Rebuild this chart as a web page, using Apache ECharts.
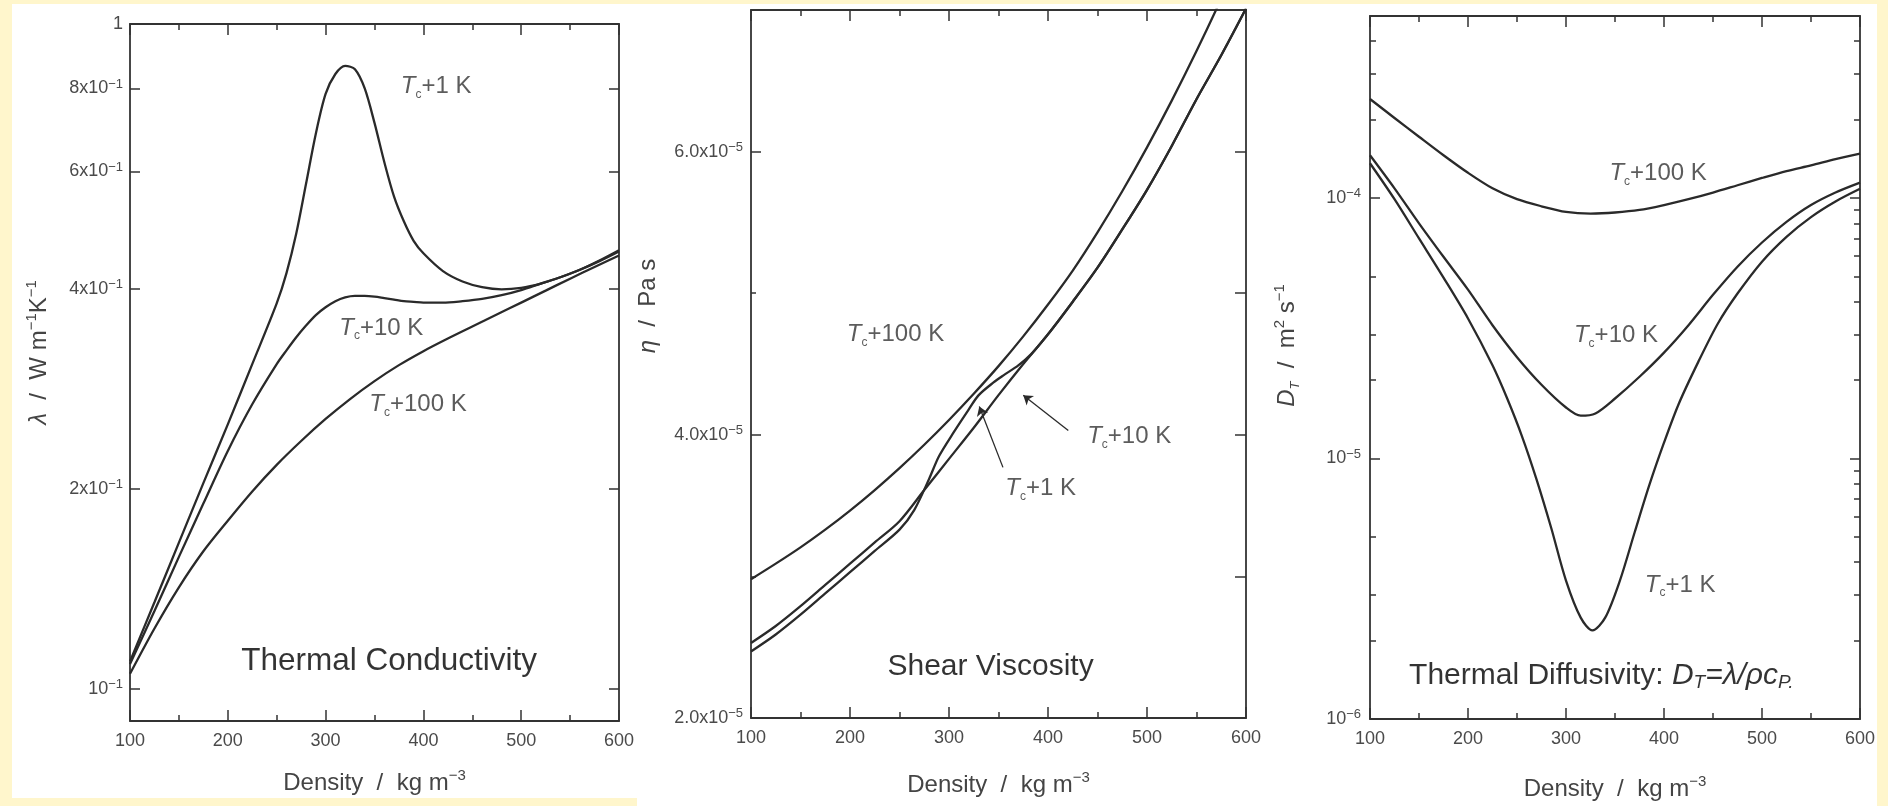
<!DOCTYPE html>
<html>
<head>
<meta charset="utf-8">
<style>
html,body{margin:0;padding:0;background:#FFF6CC;}
#c{width:1888px;height:806px;}
</style>
<script src="https://cdn.jsdelivr.net/npm/echarts@6/dist/echarts.min.js"></script>
</head>
<body>
<div id="c"></div>
<script>
// ---------------- DATA ----------------
// Panel 1: thermal conductivity (W m^-1 K^-1) vs density (kg m^-3)
const condDensity = [100,125,150,175,200,225,250,260,270,280,290,300,310,320,330,340,350,360,370,380,390,400,420,440,460,480,500,520,540,560,580,600];
const condTc1   = [0.110,0.135,0.166,0.204,0.250,0.308,0.380,0.422,0.484,0.575,0.684,0.785,0.841,0.865,0.855,0.800,0.710,0.620,0.550,0.505,0.472,0.452,0.425,0.410,0.402,0.399,0.401,0.407,0.416,0.427,0.441,0.457];
const condTc10  = [0.109,0.131,0.158,0.190,0.228,0.268,0.308,0.323,0.338,0.352,0.365,0.375,0.383,0.388,0.390,0.390,0.389,0.387,0.385,0.383,0.382,0.381,0.381,0.383,0.386,0.391,0.398,0.407,0.416,0.427,0.440,0.455];
const condDensityTc100 = [100,125,150,175,200,225,250,275,300,325,350,375,400,425,450,475,500,525,550,575,600];
const condTc100 = [0.1054,0.1233,0.1422,0.1611,0.1791,0.1982,0.2173,0.2360,0.2547,0.2729,0.2904,0.3069,0.3221,0.3365,0.3508,0.3656,0.3811,0.3972,0.4140,0.4311,0.4487];
const condTickValues = [0.1,0.2,0.4,0.6,0.8,1];
const condTickMant   = ['','2x','4x','6x','8x','1'];
const condNoteX = [413, 357, 394.5];
const condNoteY = [0.805, 0.349, 0.268];
const condNoteText = ['+1 K', '+10 K', '+100 K'];
const condTitlePos = [365, 0.1102];

// Panel 2: shear viscosity (units of 1e-5 Pa s) vs density
const visDensity = [100,125,150,175,200,225,250,275,300,325,350,375,400,425,450,475,500,525,550,575,600];
const visTc100 = [2.98,3.09,3.205,3.33,3.465,3.61,3.765,3.93,4.105,4.29,4.485,4.695,4.92,5.16,5.43,5.72,6.03,6.36,6.71,7.08,7.47];
const visTc10  = [2.53,2.65,2.79,2.94,3.09,3.24,3.39,3.61,3.83,4.05,4.28,4.50,4.71,4.94,5.18,5.45,5.73,6.04,6.37,6.68,7.01];
const visDensityTc1 = [100,125,150,175,200,225,250,265,280,290,305,320,330,345,355,370,383,400,425,450,475,500,525,550,575,600];
const visTc1 = [2.47,2.59,2.73,2.88,3.03,3.18,3.33,3.47,3.69,3.85,4.02,4.18,4.28,4.37,4.42,4.49,4.57,4.71,4.94,5.18,5.45,5.73,6.04,6.37,6.68,7.01];
const visLabelValues = [2,4,6];
const visLabelText = ['2.0x10','4.0x10','6.0x10'];
const visMajorTicks = [4,6];
const visMinorTicks = [3,5];
const visRightTicks = [3,4,5,6];
const visNoteX = [246, 482, 392.5];
const visNoteY = [4.71, 3.99, 3.62];
const visNoteText = ['+100 K', '+10 K', '+1 K'];
const visArrowFrom = [[420.5, 4.03], [354.5, 3.77]];
const visArrowTo   = [[375, 4.28], [330.6, 4.20]];
const visTitlePos = [342, 2.364];

// Panel 3: thermal diffusivity (m^2 s^-1) vs density
const difDensityTc100 = [100,125,150,175,200,225,250,275,300,325,350,375,400,425,450,475,500,525,550,575,600];
const difTc100 = [2.40e-4,2.03e-4,1.72e-4,1.46e-4,1.25e-4,1.09e-4,9.9e-5,9.3e-5,8.85e-5,8.72e-5,8.8e-5,9.0e-5,9.4e-5,9.9e-5,1.05e-4,1.12e-4,1.195e-4,1.27e-4,1.335e-4,1.41e-4,1.48e-4];
const difDensityTc10 = [100,125,150,175,200,225,250,275,300,315,330,350,375,400,425,450,475,500,525,550,575,600];
const difTc10 = [1.46e-4,1.09e-4,8.0e-5,5.95e-5,4.45e-5,3.25e-5,2.45e-5,1.92e-5,1.57e-5,1.46e-5,1.49e-5,1.70e-5,2.06e-5,2.55e-5,3.25e-5,4.25e-5,5.45e-5,6.75e-5,8.1e-5,9.4e-5,1.05e-4,1.146e-4];
const difDensityTc1 = [100,125,150,175,200,225,240,255,270,285,300,315,327,340,355,370,385,400,415,435,455,475,500,525,550,575,600];
const difTc1 = [1.36e-4,9.9e-5,7.0e-5,4.95e-5,3.45e-5,2.28e-5,1.70e-5,1.22e-5,8.3e-6,5.4e-6,3.4e-6,2.45e-6,2.19e-6,2.45e-6,3.4e-6,5.2e-6,7.9e-6,1.15e-5,1.62e-5,2.35e-5,3.3e-5,4.3e-5,5.7e-5,7.1e-5,8.45e-5,9.7e-5,1.085e-4];
const difDecades = [1e-6,1e-5,1e-4];
const difDecadeExp = ['−6','−5','−4'];
const difLeftMinor = [2e-6,3e-6,5e-6,2e-5,3e-5,5e-5,2e-4,3e-4,4e-4];
const difRightMinor = [2e-6,3e-6,4e-6,5e-6,6e-6,7e-6,8e-6,9e-6,2e-5,3e-5,4e-5,5e-5,6e-5,7e-5,8e-5,9e-5,2e-4,3e-4,4e-4];
const difNoteX = [394, 351, 416.5];
const difNoteY = [1.244e-4, 2.96e-5, 3.27e-6];
const difNoteText = ['+100 K', '+10 K', '+1 K'];
const difTitlePos = [336, 1.47e-6];

// ---------------- STYLE ----------------
const FONT = "'Liberation Sans', Arial, Helvetica, sans-serif";
const INK = '#2a2a2a';
const AXIS = '#333333';
const GRAY = '#4a4a4a';

const tickRich = {
  b: {fontSize: 18, color: GRAY, fontFamily: FONT, lineHeight: 22},
  s: {fontSize: 13, color: GRAY, fontFamily: FONT, verticalAlign: 'top', lineHeight: 13}
};
const nameRich = {
  b: {fontSize: 24, color: '#444', fontFamily: FONT, lineHeight: 30},
  i: {fontSize: 24, color: '#444', fontFamily: FONT, fontStyle: 'italic', lineHeight: 30},
  s: {fontSize: 15, color: '#444', fontFamily: FONT, verticalAlign: 'top', lineHeight: 15},
  sub: {fontSize: 13, color: '#444', fontFamily: FONT, fontStyle: 'italic', verticalAlign: 'bottom', lineHeight: 13}
};
const noteRich = {
  i: {fontSize: 24, color: '#333', fontFamily: FONT, fontStyle: 'italic', lineHeight: 28},
  sub: {fontSize: 12, color: '#333', fontFamily: FONT, verticalAlign: 'bottom', lineHeight: 12},
  n: {fontSize: 24, color: '#333', fontFamily: FONT, lineHeight: 28}
};
function titleRich(size) {
  return {
    b: {fontSize: size, color: '#000', fontFamily: FONT, lineHeight: size + 4},
    i: {fontSize: size, color: '#000', fontFamily: FONT, fontStyle: 'italic', lineHeight: size + 4},
    sub: {fontSize: Math.round(size * 0.63), color: '#000', fontFamily: FONT, fontStyle: 'italic', verticalAlign: 'bottom', lineHeight: Math.round(size * 0.63)}
  };
}

function nearestIndex(arr, v, log) {
  let best = 0, bd = Infinity;
  arr.forEach((a, i) => {
    const d = log ? Math.abs(Math.log10(a) - Math.log10(v)) : Math.abs(a - v);
    if (d < bd) { bd = d; best = i; }
  });
  return best;
}

const axisLineStyle = {color: AXIS, width: 1.8};
const tickLine = {color: AXIS, width: 1.5};

function xAxisDef(gridIndex, position, withLabel, nameGap) {
  return {
    type: 'value', gridIndex, position, min: 100, max: 600, interval: 100,
    axisLine: {show: true, onZero: false, lineStyle: axisLineStyle},
    axisTick: {show: true, inside: true, length: 11, lineStyle: tickLine},
    minorTick: {show: true, splitNumber: 2, length: 6, lineStyle: tickLine},
    splitLine: {show: false}, minorSplitLine: {show: false},
    axisLabel: {show: withLabel, margin: 11, color: GRAY, fontSize: 18, fontFamily: FONT},
    name: withLabel ? '{b|Density  /  kg m}{s|−3}' : '',
    nameLocation: 'middle', nameGap: nameGap || 0,
    nameTextStyle: {rich: nameRich}
  };
}

function tickOnlyY(base, gridIndex, position, values, length) {
  return Object.assign({}, base, {
    gridIndex, position,
    axisLine: {show: false},
    axisTick: {show: true, inside: true, length, lineStyle: tickLine, customValues: values},
    axisLabel: {show: false},
    splitLine: {show: false},
    name: ''
  });
}

const condY = {type: 'log', logBase: 10, min: 0.0895, max: 1};
const visY = {type: 'value', min: 2, max: 7};
const difY = {type: 'log', logBase: 10, min: 1e-6, max: 5e-4};

const yAxes = [
  // 0: panel 1 left
  Object.assign({}, condY, {
    gridIndex: 0, position: 'left',
    axisLine: {show: true, onZero: false, lineStyle: axisLineStyle},
    axisTick: {show: true, inside: true, length: 10, lineStyle: tickLine, customValues: condTickValues},
    axisLabel: {show: true, margin: 7, customValues: condTickValues, rich: tickRich,
      formatter: v => {
        const i = nearestIndex(condTickValues, v, true);
        if (condTickMant[i] === '1') return '{b|1}';
        return '{b|' + condTickMant[i] + '10}{s|−1}';
      }},
    splitLine: {show: false},
    name: '{i|λ}{b|  /  W m}{s|−1}{b|K}{s|−1}', nameLocation: 'middle', nameRotate: 90, nameGap: 76,
    nameTextStyle: {rich: nameRich, padding: [0, 0, 0, 40]}
  }),
  // 1: panel 1 right
  Object.assign({}, condY, {
    gridIndex: 0, position: 'right',
    axisLine: {show: true, onZero: false, lineStyle: axisLineStyle},
    axisTick: {show: true, inside: true, length: 10, lineStyle: tickLine, customValues: condTickValues},
    axisLabel: {show: false}, splitLine: {show: false}
  }),
  // 2: panel 2 left major
  Object.assign({}, visY, {
    gridIndex: 1, position: 'left',
    axisLine: {show: true, onZero: false, lineStyle: axisLineStyle},
    axisTick: {show: true, inside: true, length: 10, lineStyle: tickLine, customValues: visMajorTicks},
    axisLabel: {show: true, margin: 8, customValues: visLabelValues, rich: tickRich,
      formatter: v => '{b|' + visLabelText[nearestIndex(visLabelValues, v, false)] + '}{s|−5}'},
    splitLine: {show: false},
    name: '{i|η}{b|  /  Pa s}', nameLocation: 'middle', nameRotate: 90, nameGap: 88,
    nameTextStyle: {rich: nameRich, padding: [0, 0, 0, 116]}
  }),
  // 3: panel 2 left minor
  tickOnlyY(visY, 1, 'left', visMinorTicks, 5),
  // 4: panel 2 right
  Object.assign({}, visY, {
    gridIndex: 1, position: 'right',
    axisLine: {show: true, onZero: false, lineStyle: axisLineStyle},
    axisTick: {show: true, inside: true, length: 11, lineStyle: tickLine, customValues: visRightTicks},
    axisLabel: {show: false}, splitLine: {show: false}
  }),
  // 5: panel 3 left major
  Object.assign({}, difY, {
    gridIndex: 2, position: 'left',
    axisLine: {show: true, onZero: false, lineStyle: axisLineStyle},
    axisTick: {show: true, inside: true, length: 10, lineStyle: tickLine, customValues: difDecades},
    axisLabel: {show: true, margin: 9, customValues: difDecades, rich: tickRich,
      formatter: v => '{b|10}{s|' + difDecadeExp[nearestIndex(difDecades, v, true)] + '}'},
    splitLine: {show: false},
    name: '{i|D}{sub|T}{b|  /  m}{s|2}{b| s}{s|−1}', nameLocation: 'middle', nameRotate: 90, nameGap: 68,
    nameTextStyle: {rich: nameRich, padding: [0, 0, 0, 44]}
  }),
  // 6: panel 3 left minor
  tickOnlyY(difY, 2, 'left', difLeftMinor, 6),
  // 7: panel 3 right major
  Object.assign({}, difY, {
    gridIndex: 2, position: 'right',
    axisLine: {show: true, onZero: false, lineStyle: axisLineStyle},
    axisTick: {show: true, inside: true, length: 10, lineStyle: tickLine, customValues: difDecades},
    axisLabel: {show: false}, splitLine: {show: false}
  }),
  // 8: panel 3 right minor
  tickOnlyY(difY, 2, 'right', difRightMinor, 6)
];

const xAxes = [
  xAxisDef(0, 'bottom', true, 47),
  xAxisDef(0, 'top', false),
  xAxisDef(1, 'bottom', true, 52),
  xAxisDef(1, 'top', false),
  xAxisDef(2, 'bottom', true, 55),
  xAxisDef(2, 'top', false)
];

function curve(xs, ys, xi, yi) {
  return {
    type: 'line', xAxisIndex: xi, yAxisIndex: yi,
    data: xs.map((x, i) => [x, ys[i]]),
    showSymbol: false, symbol: 'none', smooth: 0.3, clip: true,
    lineStyle: {color: INK, width: 2.3},
    silent: true, emphasis: {disabled: true}
  };
}

function notes(xs, ys, texts, xi, yi) {
  return {
    type: 'scatter', xAxisIndex: xi, yAxisIndex: yi, symbolSize: 0, silent: true,
    data: xs.map((x, i) => [x, ys[i]]),
    label: {show: true, position: 'inside', rich: noteRich,
      formatter: p => '{i|T}{sub|c}{n|' + texts[p.dataIndex] + '}'},
    emphasis: {disabled: true}, z: 5
  };
}

function title(pos, text, xi, yi, size) {
  return {
    type: 'scatter', xAxisIndex: xi, yAxisIndex: yi, symbolSize: 0, silent: true,
    data: [pos],
    label: {show: true, position: 'inside', rich: titleRich(size), formatter: () => text},
    emphasis: {disabled: true}, z: 6
  };
}

const series = [
  curve(condDensity, condTc1, 0, 0),
  curve(condDensity, condTc10, 0, 0),
  curve(condDensityTc100, condTc100, 0, 0),
  notes(condNoteX, condNoteY, condNoteText, 0, 0),
  title(condTitlePos, '{b|Thermal Conductivity}', 0, 0, 31.5),

  curve(visDensity, visTc100, 2, 2),
  curve(visDensity, visTc10, 2, 2),
  curve(visDensityTc1, visTc1, 2, 2),
  Object.assign(notes(visNoteX, visNoteY, visNoteText, 2, 2), {
    markLine: {
      silent: true, animation: false, symbol: ['none', 'arrow'], symbolSize: 9,
      lineStyle: {color: INK, width: 1.3, type: 'solid'}, label: {show: false},
      emphasis: {disabled: true},
      data: visArrowFrom.map((f, i) => [{coord: f}, {coord: visArrowTo[i]}])
    }
  }),
  title(visTitlePos, '{b|Shear Viscosity}', 2, 2, 30),

  curve(difDensityTc100, difTc100, 4, 5),
  curve(difDensityTc10, difTc10, 4, 5),
  curve(difDensityTc1, difTc1, 4, 5),
  notes(difNoteX, difNoteY, difNoteText, 4, 5),
  title(difTitlePos, '{b|Thermal Diffusivity: }{i|D}{sub|T}{i|=λ/ρc}{sub|P.}', 4, 5, 30)
];

const chart = echarts.init(document.getElementById('c'), null, {renderer: 'canvas'});
chart.setOption({
  backgroundColor: '#FFF6CC',
  animation: false,
  graphic: [
    {type: 'rect', z: -10, silent: true, shape: {x: 12, y: 4, width: 625, height: 794}, style: {fill: '#ffffff'}},
    {type: 'rect', z: -10, silent: true, shape: {x: 637, y: 4, width: 1240, height: 802}, style: {fill: '#ffffff'}}
  ],
  grid: [
    {left: 130, top: 24, width: 489, height: 697},
    {left: 751, top: 10, width: 495, height: 708},
    {left: 1370, top: 16, width: 490, height: 704}
  ],
  xAxis: xAxes,
  yAxis: yAxes,
  series
});
</script>
</body>
</html>
